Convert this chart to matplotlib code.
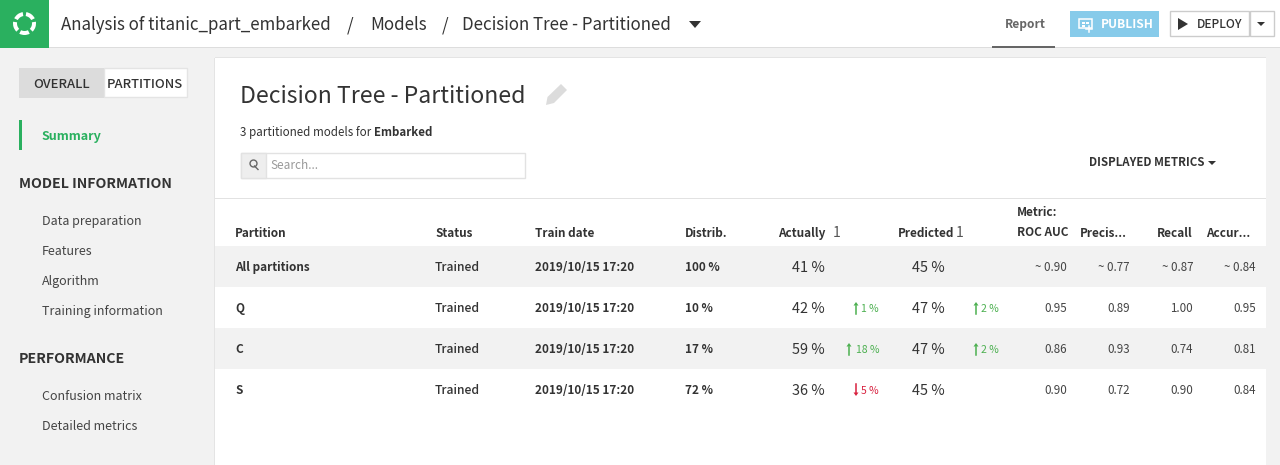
import matplotlib
matplotlib.use("Agg")
import matplotlib.pyplot as plt
from matplotlib.patches import Rectangle, Wedge, Polygon

plt.rcParams["font.family"] = ["Noto Sans CJK JP", "DejaVu Sans"]

partitions = ["All partitions", "Q", "C", "S"]
status = ["Trained", "Trained", "Trained", "Trained"]
train_date = ["2019/10/15 17:20"] * 4
distrib = ["100 %", "10 %", "17 %", "72 %"]
actually = ["41 %", "42 %", "59 %", "36 %"]
actually_delta = [None, 1, 18, -5]
predicted = ["45 %", "47 %", "47 %", "45 %"]
predicted_delta = [None, 2, 2, None]
roc_auc = ["~ 0.90", "0.95", "0.86", "0.90"]
precision = ["~ 0.77", "0.89", "0.93", "0.72"]
recall = ["~ 0.87", "1.00", "0.74", "0.90"]
accuracy = ["~ 0.84", "0.95", "0.81", "0.84"]

nav_info = ["Data preparation", "Features", "Algorithm", "Training information"]
nav_perf = ["Confusion matrix", "Detailed metrics"]

DARK = "#333333"
GREEN = "#2ab05f"
UP = "#4cb050"
DOWN = "#d8213f"

fig = plt.figure(figsize=(12.8, 4.65), dpi=100, facecolor="#f2f2f2")
ax = fig.add_axes([0, 0, 1, 1])
ax.set_xlim(0, 1280)
ax.set_ylim(465, 0)
ax.axis("off")


def txt(x, y, s, px=13, color=DARK, weight="normal", ha="left"):
    ax.text(x, y, s, fontsize=px * 0.72, color=color, fontweight=weight,
            ha=ha, va="center", zorder=5)


def box(x, y, w, h, fc, ec="none", lw=1, z=1):
    ax.add_patch(Rectangle((x, y), w, h, fc=fc, ec=ec, lw=lw, zorder=z))


# top bar
box(0, 0, 1280, 47, "white")
box(0, 47, 1280, 1.5, "#dddddd")
box(0, 0, 49, 48, GREEN, z=2)
# y axis is flipped, so these angles run clockwise on screen
for a in [-153, -81, -9, 63, 135]:
    ax.add_patch(Wedge((24.5, 23.5), 11.5, a, a + 54, width=4, fc="white", zorder=3))
txt(61, 25.5, "Analysis of titanic_part_embarked", 16.9)
txt(347, 25.5, "/", 16.9)
txt(370, 25.5, "Models", 16.9)
txt(442, 25.5, "/", 16.9)
txt(462, 25.5, "Decision Tree - Partitioned", 16.9)
ax.add_patch(Polygon([[689, 21], [701, 21], [695, 28]], fc=DARK))

txt(1005, 24.5, "Report", 12, "#666666", "bold")
box(992, 46, 63, 2, "#666666", z=3)
box(1070, 11, 89, 26, "#87cbea")
txt(1100.5, 24.5, "PUBLISH", 12, "white", "bold")
box(1079, 19.5, 13, 9, "none", "white", 1.1, z=2)
box(1081.5, 22, 3, 2, "white", z=2)
box(1086, 22, 3, 2, "white", z=2)
box(1081.5, 25.5, 3, 1.5, "white", z=2)
ax.plot([1089, 1089], [26, 32], color="white", lw=1.1, zorder=3)
ax.plot([1086, 1092], [29, 29], color="white", lw=1.1, zorder=3)
box(1169.5, 11.5, 79, 25, "white", "#cccccc")
box(1249.5, 11.5, 24, 25, "white", "#cccccc")
ax.add_patch(Polygon([[1178, 18], [1188, 24], [1178, 30]], fc=DARK, zorder=3))
txt(1197, 24.5, "DEPLOY", 12, DARK, 500)
ax.add_patch(Polygon([[1257, 22], [1265, 22], [1261, 26]], fc=DARK, zorder=3))

# sidebar
box(19, 68, 85, 30, "#dcdcdc")
box(103.5, 68.5, 83, 29, "white", "#e4e4e4")
txt(61.5, 84, "OVERALL", 13, DARK, 500, ha="center")
txt(145, 84, "PARTITIONS", 13, DARK, 500, ha="center")
box(19, 120, 3, 30, GREEN)
txt(42, 136.5, "Summary", 12.6, GREEN, "bold")
txt(19, 184, "MODEL INFORMATION", 14.2, DARK, "bold")
for i, s in enumerate(nav_info):
    txt(42, 221 + 30 * i, s, 12.5, "#444444")
txt(19, 359, "PERFORMANCE", 14.2, DARK, "bold")
for i, s in enumerate(nav_perf):
    txt(42, 396 + 30 * i, s, 12.5, "#444444")

# main panel
box(215, 58, 1051, 407, "white", z=0.5)
box(214, 58, 1, 407, "#e4e4e4", z=0.5)
box(215, 57, 1051, 1, "#e4e4e4", z=0.5)
txt(240, 96, "Decision Tree - Partitioned", 23, "#333333")
ax.add_patch(Polygon([[546, 105], [547.5, 97], [561, 84], [567, 90], [554, 103]], fc="#dcdcdc", zorder=2))
txt(240, 132, "3 partitioned models for", 11.6, DARK)
txt(374, 132, "Embarked", 11.5, DARK, "bold")

box(240.5, 152.5, 284, 25, "white", "#e2e2e2")
box(240.5, 152.5, 25, 25, "#eeeeee", "#e2e2e2")
ax.plot([252.5], [163.5], "o", mfc="none", mec="#666666", ms=5, mew=1, zorder=3)
ax.plot([254.5, 258], [166, 169.5], color="#666666", lw=1, zorder=3)
txt(270, 165.5, "Search...", 11.8, "#999999")
txt(1089, 162.5, "DISPLAYED METRICS", 11.5, DARK, "bold")
ax.add_patch(Polygon([[1208, 161], [1216, 161], [1212, 165]], fc=DARK, zorder=3))
box(215, 198, 1051, 1, "#e2e2e2")

# table header
for x, s in [(235, "Partition"), (435, "Status"), (535, "Train date"), (685, "Distrib."),
             (778, "Actually"), (898, "Predicted")]:
    txt(x, 233.5, s, 11.8, DARK, "bold")
txt(833, 232.5, "1", 14, "#555555")
txt(956, 232.5, "1", 14, "#555555")
txt(1017, 212.5, "Metric:", 11.8, DARK, "bold")
txt(1017, 232.5, "ROC AUC", 11.8, DARK, "bold")
txt(1080, 233.5, "Precis...", 11.8, DARK, "bold")
txt(1193, 233.5, "Recall", 11.8, DARK, "bold", ha="right")
txt(1206, 233.5, "Accur...", 11.8, DARK, "bold")


def delta(right, y, val):
    if val is None:
        return
    col = UP if val > 0 else DOWN
    txt(right, y + 1, f"{abs(val)} %", 10.4, col, ha="right")
    x = right - (23 if abs(val) < 10 else 30)
    tip, tail = (y - 6, y + 6) if val > 0 else (y + 6, y - 6)
    head = tip + (3.5 if val > 0 else -3.5)
    ax.plot([x, x], [tail, head], color=col, lw=1.1, zorder=3)
    ax.add_patch(Polygon([[x - 2.5, head], [x + 2.5, head], [x, tip]], fc=col, zorder=3))


# table rows
for i in range(4):
    top = 246 + 41 * i
    y = top + 21
    if i % 2 == 0:
        box(215, top, 1051, 41, "#f2f2f2")
    txt(235, y + 0.5, partitions[i], 11.8, DARK, "bold")
    txt(435, y + 0.5, status[i], 12.2, DARK, 500)
    txt(535, y + 0.5, train_date[i], 11.8, DARK, "bold")
    txt(685, y + 0.5, distrib[i], 11.8, DARK, "bold")
    txt(825, y + 1, actually[i], 14.5, DARK, ha="right")
    delta(879, y, actually_delta[i])
    txt(945, y + 1, predicted[i], 14.5, DARK, ha="right")
    delta(999, y, predicted_delta[i])
    txt(1067, y + 0.5, roc_auc[i], 11.6, "#444444", ha="right")
    txt(1130, y + 0.5, precision[i], 11.6, "#444444", ha="right")
    txt(1193, y + 0.5, recall[i], 11.6, "#444444", ha="right")
    txt(1256, y + 0.5, accuracy[i], 11.6, "#444444", ha="right")

fig.savefig("out.png", dpi=100, facecolor=fig.get_facecolor())
